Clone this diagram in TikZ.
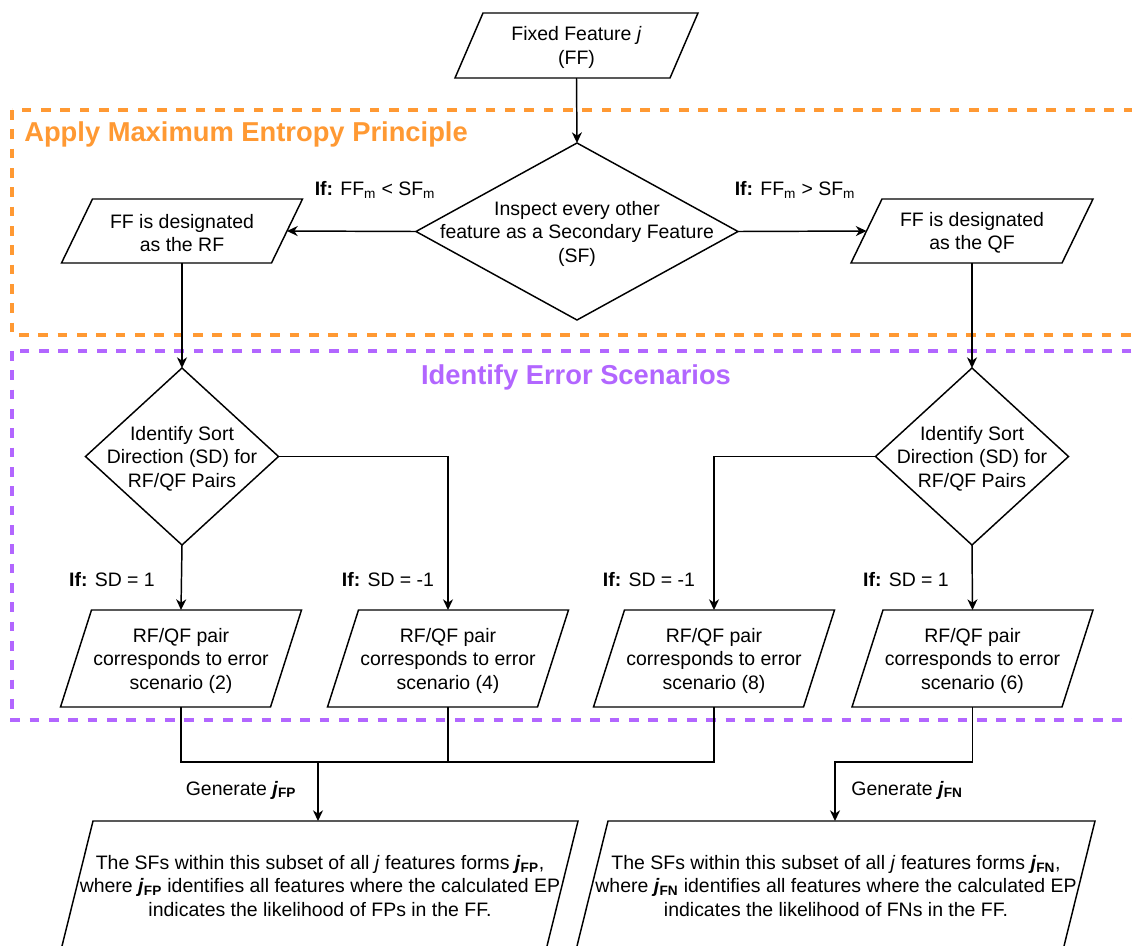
\documentclass[tikz,border=0pt]{standalone}
\usepackage{fontspec}
\setmainfont{Liberation Sans}
\usetikzlibrary{shapes.geometric,arrows.meta,calc}
\definecolor{orangebox}{HTML}{FF9933}
\definecolor{purplebox}{HTML}{B266FF}
\newcommand\pgram[6]{%
  \node[shp, minimum width=#4*0.75pt, minimum height=#5*0.75pt] (#1) at (#2,#3) {};
  \draw[ln] ({#2-#4/2+#6/2},{#3-#5/2}) -- ({#2+#4/2+#6/2},{#3-#5/2})
    -- ({#2+#4/2-#6/2},{#3+#5/2}) -- ({#2-#4/2-#6/2},{#3+#5/2}) -- cycle;
}
\begin{document}
\begin{tikzpicture}[x=0.75pt,y=-0.75pt,
  txt/.style={font=\fontsize{14.6}{17.6}\selectfont, align=center, inner sep=0pt, yshift=-1.5pt},
  ttl/.style={font=\fontsize{20.5}{24}\selectfont\bfseries, inner sep=0pt},
  shp/.style={draw=none, inner sep=0pt, outer sep=0pt},
  ln/.style={line width=1.1pt, black},
  arr/.style={ln, -{Stealth[length=8pt,width=7.5pt,inset=2.5pt]}},
  dia/.style={diamond, draw, line width=1.1pt, inner sep=0pt, outer sep=0pt},
  grp/.style={line width=2.3pt, dash pattern=on 7.3pt off 7.2pt}]
\useasboundingbox (0,0) rectangle (1132,946);
\clip (0,0) rectangle (1132,946);

% group boxes
\draw[grp, draw=orangebox] (12,110) rectangle (1150,335);
\draw[grp, draw=purplebox] (12,351) rectangle (1150,720);
\node[ttl, text=orangebox, anchor=west] (t1) at (24,134) {Apply Maximum Entropy Principle};
\node[ttl, text=purplebox] (t2) at (576,377) {Identify Error Scenarios};

% top input
\pgram{top}{576.5}{45.5}{215}{65}{28}
\node[txt] (topt) at (top.center) {Fixed Feature \textit{j}\\(FF)};

% first decision
\node[dia, minimum width=322*0.75pt, minimum height=177*0.75pt] (d0) at (577,231.5) {};
\node[txt] (d0t) at (d0.center) {Inspect every other\\feature as a Secondary Feature\\(SF)};

\pgram{rf}{182}{231}{210}{64}{31}
\node[txt] (rft) at (rf.center) {FF is designated\\as the RF};
\pgram{qf}{972}{231}{211}{64}{31}
\node[txt] (qft) at (qf.center) {FF is designated\\as the QF};

% second decisions
\node[dia, minimum width=193*0.75pt, minimum height=177*0.75pt] (d1) at (182,456.5) {};
\node[txt] (d1t) at (d1.center) {Identify Sort\\Direction (SD) for\\RF/QF Pairs};
\node[dia, minimum width=193*0.75pt, minimum height=177*0.75pt] (d2) at (972,456.5) {};
\node[txt] (d2t) at (d2.center) {Identify Sort\\Direction (SD) for\\RF/QF Pairs};

% scenarios
\pgram{p2}{181}{658.5}{210}{97}{31}
\node[txt] (p2t) at (p2.center) {RF/QF pair\\corresponds to error\\scenario (2)};
\pgram{p4}{448}{658.5}{210}{97}{31}
\node[txt] (p4t) at (p4.center) {RF/QF pair\\corresponds to error\\scenario (4)};
\pgram{p8}{714}{658.5}{210}{97}{31}
\node[txt] (p8t) at (p8.center) {RF/QF pair\\corresponds to error\\scenario (8)};
\pgram{p6}{972.5}{658.5}{210}{97}{31}
\node[txt] (p6t) at (p6.center) {RF/QF pair\\corresponds to error\\scenario (6)};

% outputs
\pgram{bigL}{304.5}{946}{485}{250}{62}
\node[txt] (bigLt) at (320,884) {The SFs within this subset of all \textit{j} features forms \textbf{\textit{j}\textsubscript{FP}},\\
where \textbf{\textit{j}\textsubscript{FP}} identifies all features where the calculated EP\\
indicates the likelihood of FPs in the FF.};
\pgram{bigR}{820.5}{946}{487}{250}{62}
\node[txt] (bigRt) at (836,884) {The SFs within this subset of all \textit{j} features forms \textbf{\textit{j}\textsubscript{FN}},\\
where \textbf{\textit{j}\textsubscript{FN}} identifies all features where the calculated EP\\
indicates the likelihood of FNs in the FF.};

% connectors
\draw[arr] (top.south) -- (d0.north);
\draw[arr] (d0.west) -- (rf.east);
\draw[arr] (d0.east) -- (qf.west);
\draw[arr] (rf.south) -- (d1.north);
\draw[arr] (qf.south) -- (d2.north);
\draw[arr] (d1.south) -- (p2.north);
\draw[arr] (d1.east) -| (p4.north);
\draw[arr] (d2.west) -| (p8.north);
\draw[arr] (d2.south) -- (p6.north);

\coordinate (jL) at (318,762);
\coordinate (jR) at (835,762);
\draw[ln] (p2.south) -- (p2.south |- jL) -- (p8.south |- jL) -- (p8.south);
\draw[ln] (p4.south) -- (p4.south |- jL);
\draw[arr] (jL) -- (jL |- bigL.north);
\draw[arr] (p6.south) |- (jR) -- (jR |- bigR.north);

% labels
\node[txt] (l1) at (375,188) {\textbf{If:} FF\textsubscript{m} < SF\textsubscript{m}};
\node[txt] (l2) at (795,188) {\textbf{If:} FF\textsubscript{m} > SF\textsubscript{m}};
\node[txt] (l3) at (112,578) {\textbf{If:} SD = 1};
\node[txt] (l4) at (388,578) {\textbf{If:} SD = -1};
\node[txt] (l5) at (649,578) {\textbf{If:} SD = -1};
\node[txt] (l6) at (906,578) {\textbf{If:} SD = 1};
\node[txt] (g1) at (241,788) {Generate \textbf{\textit{j}\textsubscript{FP}}};
\node[txt] (g2) at (907,788) {Generate \textbf{\textit{j}\textsubscript{FN}}};
\end{tikzpicture}
\end{document}
